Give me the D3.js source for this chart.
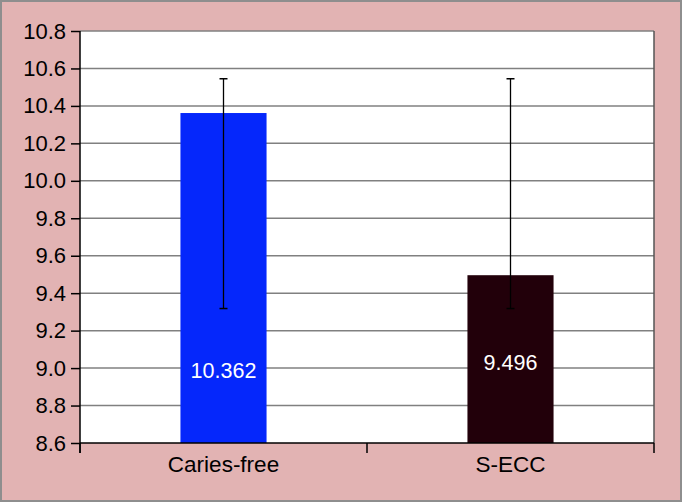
<!DOCTYPE html>
<html>
<head>
<meta charset="utf-8">
<script src="https://cdn.jsdelivr.net/npm/d3@7"></script>
<style>
  html, body { margin: 0; padding: 0; background: #fff; }
  svg { display: block; font-family: "Liberation Sans", Arial, sans-serif; }
</style>
</head>
<body>
<div id="chart"></div>
<script>
// Mean values with error bars (top / bottom of the whiskers)
const categories = ['Caries-free', 'S-ECC'];
const means = [10.362, 9.496];
const errHigh = [10.545, 10.545];
const errLow = [9.318, 9.318];
const labelAt = [8.948, 8.988]; // value-label baselines, in data units
const barColors = ['#0527fb', '#22000a'];
const yTicks = [8.6, 8.8, 9.0, 9.2, 9.4, 9.6, 9.8, 10.0, 10.2, 10.4, 10.6, 10.8];

const W = 682, H = 502;
const M = { top: 31, right: 28, bottom: 59, left: 80 };
const iW = W - M.left - M.right;
const iH = H - M.top - M.bottom;

const svg = d3.select('#chart').append('svg')
    .attr('width', W).attr('height', H);

// outer pink frame
svg.append('rect').attr('x', 1).attr('y', 1).attr('width', W - 2).attr('height', H - 2)
    .attr('fill', '#e2b3b3').attr('stroke', '#8e8e8e').attr('stroke-width', 2);

const g = svg.append('g').attr('transform', `translate(${M.left},${M.top})`);

const x = d3.scaleBand().domain(categories).range([0, iW]).paddingInner(0).paddingOuter(0);
const y = d3.scaleLinear().domain([8.6, 10.8]).range([iH, 0]);

// plot area
g.append('rect').attr('width', iW).attr('height', iH).attr('fill', '#fff');

// grid
g.selectAll('line.grid').data(yTicks.slice(1)).enter().append('line')
    .attr('class', 'grid')
    .attr('x1', 0).attr('x2', iW)
    .attr('y1', d => y(d)).attr('y2', d => y(d))
    .attr('stroke', '#808080').attr('stroke-width', 1.5);

// right border of plot
g.append('line').attr('x1', iW).attr('x2', iW).attr('y1', 0).attr('y2', iH)
    .attr('stroke', '#555').attr('stroke-width', 1.5);

// bars
const bw = x.bandwidth() * 0.3;
g.selectAll('rect.bar').data(categories).enter().append('rect')
    .attr('class', 'bar')
    .attr('x', d => x(d) + x.bandwidth() / 2 - bw / 2)
    .attr('width', bw)
    .attr('y', (d, i) => y(means[i]))
    .attr('height', (d, i) => iH - y(means[i]))
    .attr('fill', (d, i) => barColors[i]);

// error bars
const cx = d => x(d) + x.bandwidth() / 2;
g.selectAll('line.err').data(categories).enter().append('line')
    .attr('x1', cx).attr('x2', cx)
    .attr('y1', (d, i) => y(errHigh[i])).attr('y2', (d, i) => y(errLow[i]))
    .attr('stroke', '#000').attr('stroke-width', 1.3);
['hi', 'lo'].forEach(k => {
    const arr = k === 'hi' ? errHigh : errLow;
    g.selectAll('line.cap' + k).data(categories).enter().append('line')
        .attr('x1', d => cx(d) - 4).attr('x2', d => cx(d) + 4)
        .attr('y1', (d, i) => y(arr[i])).attr('y2', (d, i) => y(arr[i]))
        .attr('stroke', '#000').attr('stroke-width', 1.5);
});

// value labels
g.selectAll('text.val').data(categories).enter().append('text')
    .attr('x', cx)
    .attr('y', (d, i) => y(labelAt[i]))
    .attr('text-anchor', 'middle').attr('fill', '#fff').attr('font-size', 21.5)
    .text((d, i) => String(means[i]));

// y axis
const yAxis = g.append('g')
    .call(d3.axisLeft(y).tickValues(yTicks).tickFormat(d3.format('.1f')).tickSize(9).tickPadding(5));
yAxis.attr('font-family', null);
yAxis.select('.domain').attr('stroke', '#000').attr('stroke-width', 1.5).attr('d', `M0,0V${iH + 10}`);
yAxis.selectAll('.tick line').attr('stroke', '#000').attr('stroke-width', 1.5);
yAxis.selectAll('.tick text').attr('fill', '#000').style('font-size', '22px');

// x axis
const xa = g.append('g').attr('transform', `translate(0,${iH})`);
xa.append('line').attr('x1', 0).attr('x2', iW).attr('stroke', '#000').attr('stroke-width', 1.5);
const bounds = [0, ...categories.map(c => x(c) + x.bandwidth())];
xa.selectAll('line.xt').data(bounds).enter().append('line')
    .attr('x1', d => d).attr('x2', d => d).attr('y1', 0).attr('y2', 10)
    .attr('stroke', '#000').attr('stroke-width', 1.5);
xa.selectAll('text').data(categories).enter().append('text')
    .attr('x', cx).attr('y', 29)
    .attr('text-anchor', 'middle').attr('font-size', 22.5).attr('fill', '#000')
    .text(d => d);
</script>
</body>
</html>
